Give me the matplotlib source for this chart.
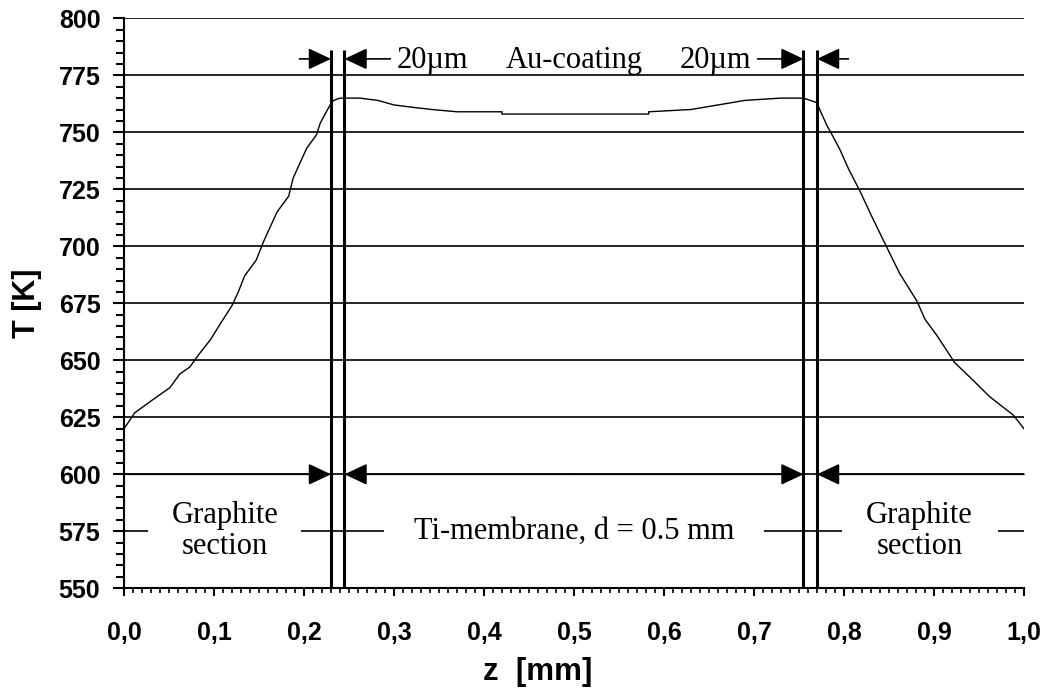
import matplotlib
matplotlib.use('Agg')
import matplotlib.pyplot as plt
from matplotlib.ticker import MultipleLocator
import numpy as np

# temperature profile across graphite / Ti-membrane / graphite
z_mm = [0.0, 0.012, 0.033, 0.051, 0.062, 0.073, 0.084, 0.096, 0.107, 0.12,
        0.127, 0.134, 0.147, 0.155, 0.17, 0.183, 0.188, 0.203, 0.214, 0.218,
        0.229, 0.233, 0.24, 0.262, 0.282, 0.3, 0.32, 0.342, 0.37, 0.42,
        0.42, 0.583, 0.583, 0.63, 0.66, 0.69, 0.73, 0.755, 0.77, 0.773,
        0.781, 0.788, 0.796, 0.805, 0.818, 0.831, 0.847, 0.862, 0.881, 0.89,
        0.903, 0.923, 0.944, 0.962, 0.988, 1.0]
T_K = [620, 627, 633, 638, 644, 647, 653, 659, 666, 674,
       680, 687, 694, 702, 715, 722, 730, 743, 749, 754,
       762, 764, 765, 765, 764, 762, 761, 760, 759, 759,
       758, 758, 759, 760, 762, 764, 765, 765, 763, 760,
       753, 748, 742, 734, 724, 713, 700, 688, 676, 668,
       661, 649, 641, 634, 626, 620]

# Au-coating boundaries (20 um layers)
boundaries = [0.23, 0.245, 0.755, 0.77]

x_ticks = [0.0, 0.1, 0.2, 0.3, 0.4, 0.5, 0.6, 0.7, 0.8, 0.9, 1.0]
x_tick_labels = ['0,0', '0,1', '0,2', '0,3', '0,4', '0,5', '0,6', '0,7', '0,8', '0,9', '1,0']
y_ticks = [550, 575, 600, 625, 650, 675, 700, 725, 750, 775, 800]

sans = ['Liberation Sans', 'DejaVu Sans']
serif = ['Liberation Serif', 'DejaVu Serif']

fig = plt.figure(figsize=(10.52, 6.92), dpi=100)
ax = fig.add_axes([0.11787, 0.14986, 0.85551, 0.82369])

ax.set_xlim(0, 1.0)
ax.set_ylim(550, 800)

# grid + axes
ax.set_yticks(y_ticks)
ax.yaxis.set_minor_locator(MultipleLocator(5))
ax.set_xticks(x_ticks)
ax.set_xticklabels(x_tick_labels)
ax.xaxis.set_minor_locator(MultipleLocator(0.01))
ax.grid(axis='y', which='major', color='black', lw=1.2, zorder=1)
ax.set_axisbelow(True)
for s in ['top', 'right']:
    ax.spines[s].set_visible(False)
for s in ['left', 'bottom']:
    ax.spines[s].set_linewidth(1.5)

ax.tick_params(axis='y', which='major', direction='out', length=8, width=1.5, pad=9)
ax.tick_params(axis='y', which='minor', direction='out', length=6, width=1.5)
ax.tick_params(axis='x', which='major', direction='out', length=5.5, width=1.5, pad=18)
ax.tick_params(axis='x', which='minor', direction='out', length=3.8, width=1.2)
for lab in ax.get_xticklabels() + ax.get_yticklabels():
    lab.set_fontfamily(sans)
    lab.set_fontweight('bold')
    lab.set_fontsize(18)

ax.set_xlabel('z  [mm]', fontsize=22.5, fontweight='bold', family=sans)
ax.xaxis.set_label_coords(0.4594, -0.12)
ax.set_ylabel('T [K]', fontsize=22, fontweight='bold', family=sans)
ax.yaxis.set_label_coords(-0.0915, 0.5)

# curve
ax.plot(z_mm, T_K, color='black', lw=1.0, zorder=3)

# coating boundaries
ax.vlines(boundaries, 550, 786, color='black', lw=2.2, zorder=4)

arrow = dict(arrowstyle='-|>,head_length=0.7,head_width=0.33', color='black',
             lw=1.2, shrinkA=0, shrinkB=0, mutation_scale=20)

# top dimension arrows
y_top = 782.2
ax.annotate('', xy=(boundaries[0], y_top), xytext=(0.195, y_top), arrowprops=arrow)
ax.annotate('', xy=(boundaries[1], y_top), xytext=(0.296, y_top), arrowprops=arrow)
ax.annotate('', xy=(boundaries[2], y_top), xytext=(0.704, y_top), arrowprops=arrow)
ax.annotate('', xy=(boundaries[3], y_top), xytext=(0.805, y_top), arrowprops=arrow)
ax.text(0.303, 778, '20µm', ha='left', va='baseline', fontsize=22, family=serif)
ax.text(0.5, 778, 'Au-coating', ha='center', va='baseline', fontsize=22, family=serif)
ax.text(0.697, 778, '20µm', ha='right', va='baseline', fontsize=22, family=serif)

# bottom section arrows on the 600 K line
ax.annotate('', xy=(boundaries[0], 600), xytext=(0.0, 600), arrowprops=arrow)
ax.annotate('', xy=(boundaries[1], 600), xytext=(0.5, 600), arrowprops=arrow)
ax.annotate('', xy=(boundaries[2], 600), xytext=(0.5, 600), arrowprops=arrow)
ax.annotate('', xy=(boundaries[3], 600), xytext=(1.0, 600), arrowprops=arrow)

# gaps in the 575 K line behind the section labels
ax.hlines([575, 575, 575], [0.027, 0.289, 0.798], [0.197, 0.711, 0.971],
          color='white', lw=3, zorder=2)
ax.text(0.112, 575, 'Graphite\nsection', ha='center', va='center', fontsize=22,
        family=serif, linespacing=1.1, zorder=5)
ax.text(0.5, 575, 'Ti-membrane, d = 0.5 mm', ha='center', va='center', fontsize=22,
        family=serif, zorder=5)
ax.text(0.884, 575, 'Graphite\nsection', ha='center', va='center', fontsize=22,
        family=serif, linespacing=1.1, zorder=5)

fig.savefig('out.png', dpi=100)
